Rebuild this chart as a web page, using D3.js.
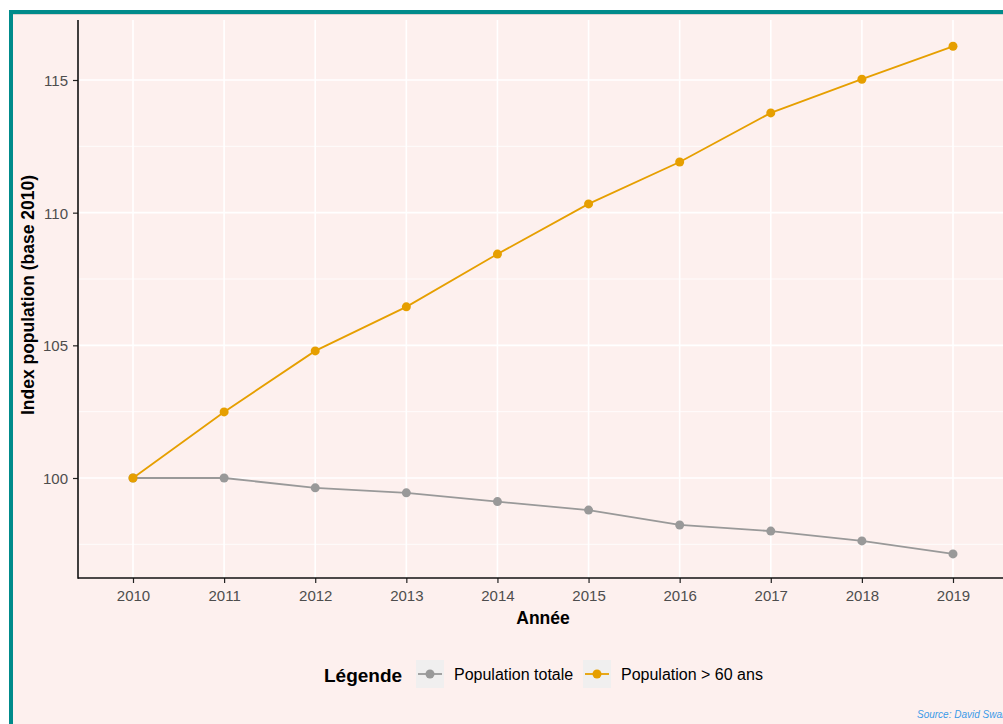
<!DOCTYPE html>
<html><head><meta charset="utf-8">
<script src="https://cdn.jsdelivr.net/npm/d3@7"></script>
<style>
html,body{margin:0;padding:0;background:#fff;}
svg{display:block;font-family:"Liberation Sans",Arial,sans-serif;}
</style></head>
<body>
<svg id="chart" width="1003" height="724"></svg>
<script>
const years = ["2010","2011","2012","2013","2014","2015","2016","2017","2018","2019"];
const popTotale = [100, 100.0, 99.63, 99.44, 99.11, 98.79, 98.23, 98.0, 97.63, 97.14];
const pop60 = [100, 102.49, 104.79, 106.45, 108.44, 110.33, 111.91, 113.76, 115.03, 116.27];
const yTicks = [100, 105, 110, 115];
const yMinor = [97.5, 102.5, 107.5, 112.5];
const seriesNames = ["Population totale", "Population > 60 ans"];
const seriesColors = ["#999999", "#E69F00"];

const svg = d3.select("#chart");
// background + border
svg.append("rect").attr("x",9).attr("y",10).attr("width",1000).attr("height",720).attr("fill","#FDF0EE");
svg.append("rect").attr("x",9).attr("y",10).attr("width",1000).attr("height",4).attr("fill","#008B8B");
svg.append("rect").attr("x",9).attr("y",10).attr("width",4).attr("height",720).attr("fill","#008B8B");
svg.append("rect").attr("x",13).attr("y",14).attr("width",1000).attr("height",1).attr("fill","#d9d0cf");

const L = 78, T = 20, B = 578;
const x = d3.scalePoint().domain(years).range([133, 953]);
const y = d3.scaleLinear().domain([100, 115]).range([478, 80]);
const R = 1010;

const g = svg.append("g");
g.selectAll(".ymin").data(yMinor).join("line")
  .attr("x1",L).attr("x2",R).attr("y1",d=>y(d)).attr("y2",d=>y(d))
  .attr("stroke","#fff").attr("stroke-width",0.8);
g.selectAll(".ymaj").data(yTicks).join("line")
  .attr("x1",L).attr("x2",R).attr("y1",d=>y(d)).attr("y2",d=>y(d))
  .attr("stroke","#fff").attr("stroke-width",1.6);
g.selectAll(".xmaj").data(years).join("line")
  .attr("x1",d=>x(d)).attr("x2",d=>x(d)).attr("y1",T).attr("y2",B)
  .attr("stroke","#fff").attr("stroke-width",1.6);

// axes
const xAxis = svg.append("g").attr("transform",`translate(0,${B})`)
  .call(d3.axisBottom(x).tickSize(5).tickPadding(6));
xAxis.select(".domain").remove();
svg.append("line").attr("x1",L).attr("x2",R).attr("y1",B).attr("y2",B).attr("stroke","#111").attr("stroke-width",1.6);
const yAxis = svg.append("g").attr("transform",`translate(${L},0)`)
  .call(d3.axisLeft(y).tickValues(yTicks).tickSize(5).tickPadding(5));
yAxis.select(".domain").remove();
svg.append("line").attr("x1",L).attr("x2",L).attr("y1",T).attr("y2",B+0.8).attr("stroke","#111").attr("stroke-width",1.6);
[xAxis,yAxis].forEach(a=>{
  a.attr("font-size",null).attr("font-family",null);
  a.selectAll(".tick line").attr("stroke","#222").attr("stroke-width",1.2);
  a.selectAll(".tick text").attr("fill","#4D4D4D").attr("font-size","15px");
});
xAxis.selectAll(".tick text").attr("dy",null).attr("y",22.5);
yAxis.selectAll(".tick text").attr("dy","0.36em");

// lines
const line = d3.line().x((d,i)=>x(years[i])).y(d=>y(d));
[popTotale, pop60].forEach((s,k)=>{
  svg.append("path").datum(s).attr("d",line).attr("fill","none")
    .attr("stroke",seriesColors[k]).attr("stroke-width",1.8);
  svg.append("g").selectAll("circle").data(s).join("circle")
    .attr("cx",(d,i)=>x(years[i])).attr("cy",d=>y(d)).attr("r",4.5)
    .attr("fill",seriesColors[k]);
});

// axis titles
svg.append("text").attr("x",543).attr("y",623.5).attr("text-anchor","middle")
  .attr("font-weight","bold").attr("font-size","17.5px").attr("fill","#000").text("Année");
svg.append("text").attr("transform","translate(33.5,295) rotate(-90)").attr("text-anchor","middle")
  .attr("font-weight","bold").attr("font-size","17.5px").attr("fill","#000").text("Index population (base 2010)");

// legend
svg.append("text").attr("x",324).attr("y",681.5).attr("font-weight","bold").attr("font-size","19px").attr("fill","#000").text("Légende");
const keyX = [416, 583], textX = [454, 621];
seriesNames.forEach((n,k)=>{
  svg.append("rect").attr("x",keyX[k]).attr("y",660).attr("width",28).attr("height",28).attr("fill","#F0EFEF");
  svg.append("line").attr("x1",keyX[k]+2).attr("x2",keyX[k]+26).attr("y1",674).attr("y2",674).attr("stroke",seriesColors[k]).attr("stroke-width",1.8);
  svg.append("circle").attr("cx",keyX[k]+14).attr("cy",674).attr("r",4.5).attr("fill",seriesColors[k]);
  svg.append("text").attr("x",textX[k]).attr("y",680).attr("font-size","16px").attr("fill","#000").text(n);
});

svg.append("text").attr("x",917).attr("y",718).attr("font-size","10px").attr("font-style","italic").attr("fill","#3A9AE8").text("Source: David Swanson");
</script>
</body></html>
